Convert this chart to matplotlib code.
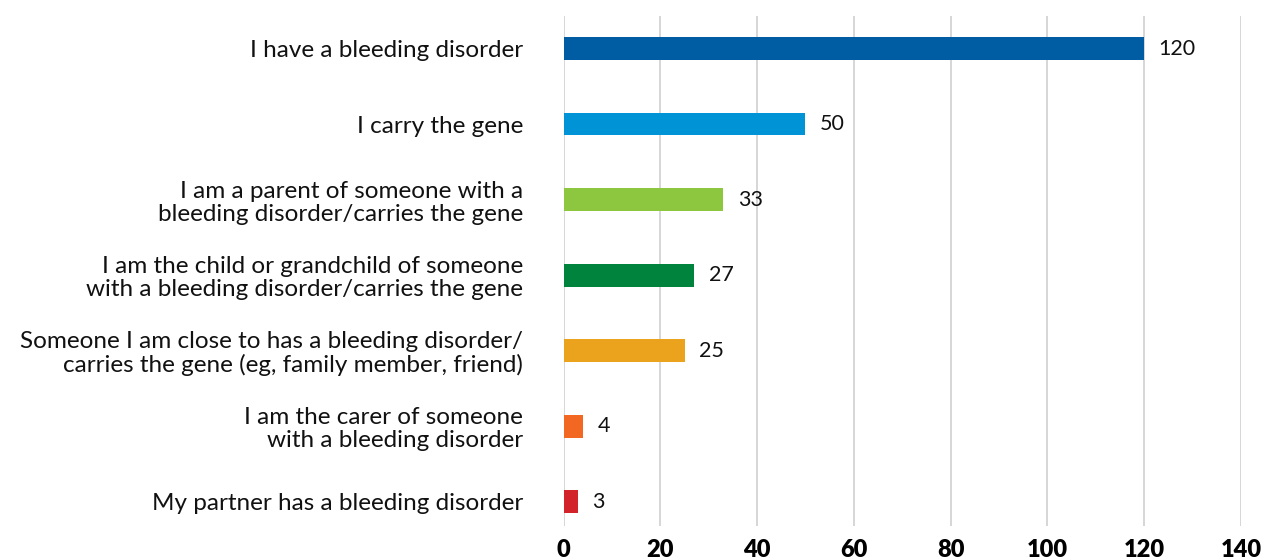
import matplotlib

matplotlib.use("Agg")
import matplotlib.pyplot as plt
import numpy as np

categories = [
    "I have a bleeding disorder",
    "I carry the gene",
    "I am a parent of someone with a\nbleeding disorder/carries the gene",
    "I am the child or grandchild of someone\nwith a bleeding disorder/carries the gene",
    "Someone I am close to has a bleeding disorder/\ncarries the gene (eg, family member, friend)",
    "I am the carer of someone\nwith a bleeding disorder",
    "My partner has a bleeding disorder",
]
values = [120, 50, 33, 27, 25, 4, 3]
colors = ["#005DA4", "#0093D6", "#8DC63F", "#00843D", "#EBA21D", "#F26722", "#D2232A"]
xticks = [0, 20, 40, 60, 80, 100, 120, 140]

plt.rcParams["font.family"] = ["Lato", "DejaVu Sans"]

fig = plt.figure(figsize=(12.65, 5.6), dpi=100)
ax = fig.add_axes([0.4455, 0.0607, 0.9810 - 0.4455, 0.9714 - 0.0607])

pos = np.arange(len(categories))
ax.barh(pos, values, height=0.30, color=colors, zorder=3)
for p, v in zip(pos, values):
    ax.text(v + 3, p, str(v), va="center", ha="left", fontsize=15.5, color="#111111")

ax.set_xlim(0, 140)
ax.set_ylim(6.32, -0.43)
ax.set_xticks(xticks)
ax.set_xticklabels([str(t) for t in xticks], fontsize=17, fontweight="heavy")
ax.set_yticks(pos)
ax.set_yticklabels(categories, fontsize=17.5, color="#111111", linespacing=1.12)
ax.tick_params(axis="x", length=0, pad=9)
ax.tick_params(axis="y", length=0, pad=29)
ax.grid(axis="x", color="#d0d0d0", linewidth=1.2, zorder=0)
for s in ax.spines.values():
    s.set_visible(False)

fig.savefig("out.png", dpi=100)
